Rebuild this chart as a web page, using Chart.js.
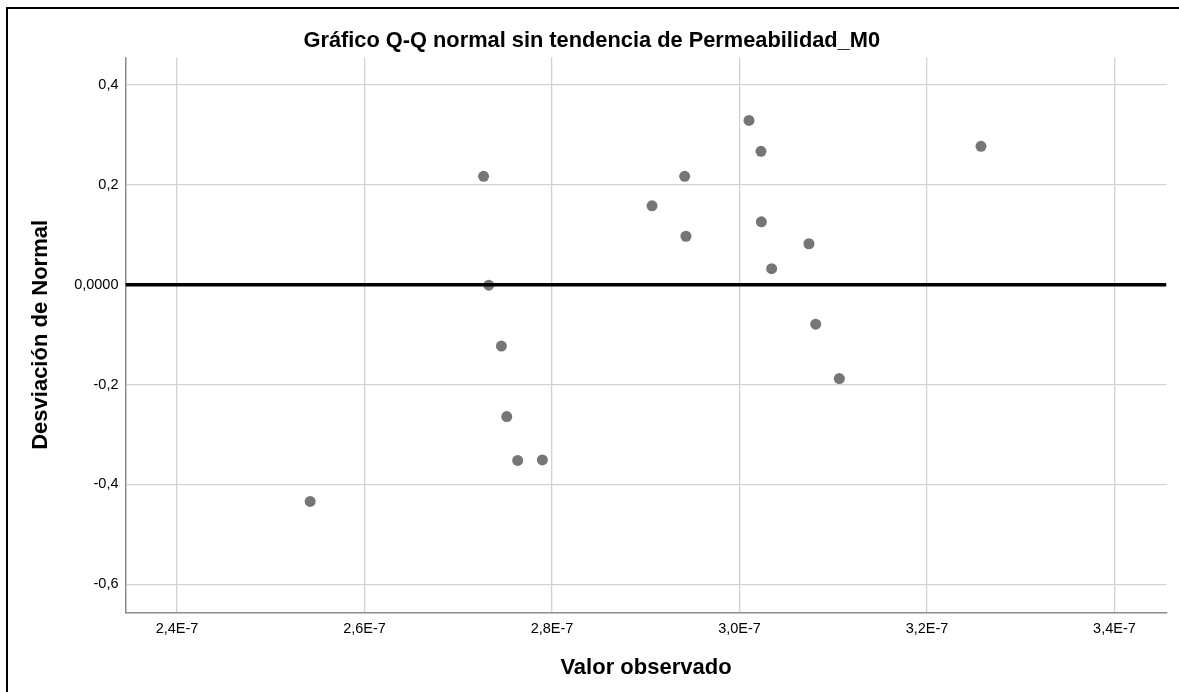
<!DOCTYPE html>
<html lang="es">
<head>
<meta charset="utf-8">
<title>Gráfico Q-Q normal sin tendencia de Permeabilidad_M0</title>
<script src="https://cdn.jsdelivr.net/npm/chart.js@4"></script>
<style>
    html, body { margin: 0; padding: 0; background: #fff; }
    #wrap { position: relative; width: 1179px; height: 692px; overflow: hidden; }
    #frame {
        position: absolute; left: 6px; top: 7px; width: 2000px; height: 2000px;
        border-left: 2px solid #000; border-top: 2px solid #000;
    }
    #qqChart { position: absolute; left: 0; top: 0; }
</style>
</head>
<body>
<div id="wrap">
    <div id="frame"></div>
    <canvas id="qqChart" width="1179" height="692"></canvas>
</div>
<script>
// Observed permeability values and their deviation from the normal line
const observedValues = [
    2.542e-7, 2.727e-7, 2.7325e-7, 2.746e-7, 2.7517e-7, 2.7634e-7,
    2.7897e-7, 2.9067e-7, 2.9415e-7, 2.9429e-7, 3.0101e-7, 3.0229e-7,
    3.0233e-7, 3.0343e-7, 3.0741e-7, 3.0813e-7, 3.1065e-7, 3.2576e-7
];
const deviations = [
    -0.434, 0.217, -0.001, -0.123, -0.264, -0.352,
    -0.351, 0.158, 0.217, 0.097, 0.329, 0.267,
    0.126, 0.032, 0.082, -0.079, -0.188, 0.277
];

// Axis ranges and tick positions
const xRange = [2.345e-7, 3.4555e-7];
const yRange = [-0.656, 0.455];
const xTicks = [2.4e-7, 2.6e-7, 2.8e-7, 3.0e-7, 3.2e-7, 3.4e-7];
const yTicks = [-0.6, -0.4, -0.2, 0, 0.2, 0.4];

const fontFamily = '"Liberation Sans", Arial, sans-serif';

document.addEventListener('DOMContentLoaded', function() {
    const ctx = document.getElementById('qqChart');

    const points = observedValues.map((v, i) => ({ x: v, y: deviations[i] }));

    new Chart(ctx, {
        type: 'scatter',
        data: {
            datasets: [
                {
                    // horizontal reference line at zero deviation
                    type: 'line',
                    data: [{ x: xRange[0], y: 0 }, { x: xRange[1], y: 0 }],
                    borderColor: '#000',
                    borderWidth: 3.5,
                    pointRadius: 0,
                    order: 0
                },
                {
                    data: points,
                    backgroundColor: '#767676',
                    borderWidth: 0,
                    pointRadius: 5.5,
                    order: 1
                }
            ]
        },
        options: {
            responsive: false,
            animation: false,
            layout: {
                padding: { left: 17, right: 12.5, top: 0, bottom: 0 }
            },
            plugins: {
                legend: { display: false },
                tooltip: { enabled: false },
                title: {
                    display: true,
                    text: 'Gráfico Q-Q normal sin tendencia de Permeabilidad_M0',
                    color: '#000',
                    font: { family: fontFamily, size: 21.8, weight: 'bold', lineHeight: 1.2 },
                    padding: { top: 27.9, bottom: 3.4 }
                }
            },
            scales: {
                x: {
                    type: 'linear',
                    min: xRange[0],
                    max: xRange[1],
                    afterBuildTicks: scale => {
                        scale.ticks = xTicks.map(v => ({ value: v }));
                    },
                    afterFit: scale => { scale.height = 79.7; },
                    grid: { color: '#d2d2d2', lineWidth: 1.3, drawTicks: false },
                    border: { color: '#8c8c8c', width: 1.5 },
                    ticks: {
                        color: '#000',
                        padding: 8,
                        font: { family: fontFamily, size: 14.5 },
                        callback: v => (v * 1e7).toFixed(1).replace('.', ',') + 'E-7'
                    },
                    title: {
                        display: true,
                        text: 'Valor observado',
                        color: '#000',
                        font: { family: fontFamily, size: 22, weight: 'bold', lineHeight: 1.2 },
                        padding: { top: 0, bottom: 10.8 }
                    }
                },
                y: {
                    type: 'linear',
                    min: yRange[0],
                    max: yRange[1],
                    afterBuildTicks: scale => {
                        scale.ticks = yTicks.map(v => ({ value: v }));
                    },
                    afterFit: scale => { scale.width = 108.5; },
                    grid: { color: '#d2d2d2', lineWidth: 1.3, drawTicks: false },
                    border: { color: '#8c8c8c', width: 1.5 },
                    ticks: {
                        color: '#000',
                        padding: 7,
                        font: { family: fontFamily, size: 14.5 },
                        callback: v => v === 0 ? '0,0000' : v.toFixed(1).replace('.', ',')
                    },
                    title: {
                        display: true,
                        text: 'Desviación de Normal',
                        color: '#000',
                        font: { family: fontFamily, size: 22, weight: 'bold', lineHeight: 1.2 },
                        padding: { top: 10.8, bottom: 0 }
                    }
                }
            }
        }
    });
});
</script>
</body>
</html>
